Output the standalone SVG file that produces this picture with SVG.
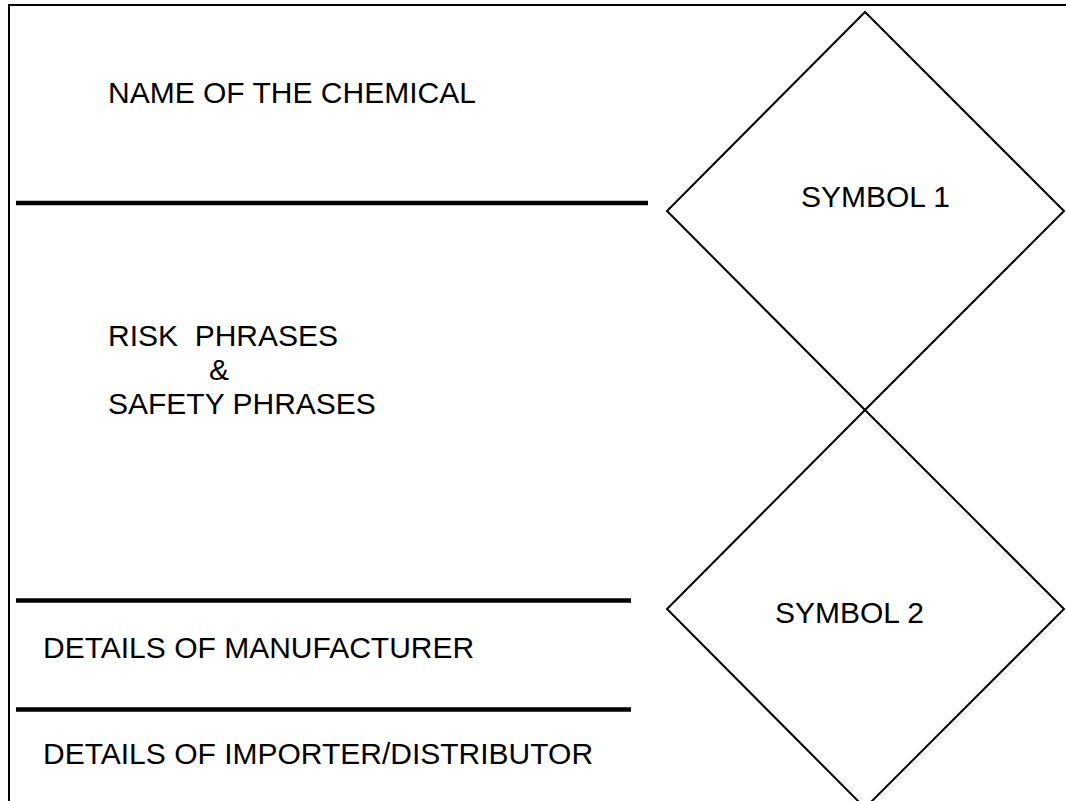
<svg xmlns="http://www.w3.org/2000/svg" width="1066" height="801" viewBox="0 0 1066 801">
<style>
.t{font-family:"Liberation Sans",Arial,sans-serif;font-size:30px;fill:#000}
.rule{stroke:#000;stroke-width:4.5;fill:none}
.dia{stroke:#000;stroke-width:2;fill:none}
.frame{stroke:#000;stroke-width:2;fill:none}
</style>
<rect width="1066" height="801" fill="#fff"/>
<g id="frame">
<polyline class="frame" points="9,801 9,5 1066,5"/>
</g>
<g id="connectors">
<line class="rule" x1="16" y1="203" x2="648" y2="203"/>
<line class="rule" x1="16" y1="600.5" x2="631" y2="600.5"/>
<line class="rule" x1="16" y1="709.5" x2="631" y2="709.5"/>
</g>
<g id="name">
<text class="t" x="108" y="103">NAME OF THE CHEMICAL</text>
</g>
<g id="phrases">
<text class="t" x="108" y="346" xml:space="preserve">RISK  PHRASES</text>
<text class="t" x="209" y="380">&amp;</text>
<text class="t" x="108" y="414">SAFETY PHRASES</text>
</g>
<g id="manufacturer">
<text class="t" x="43" y="658">DETAILS OF MANUFACTURER</text>
</g>
<g id="importer">
<text class="t" x="43" y="764">DETAILS OF IMPORTER/DISTRIBUTOR</text>
</g>
<g id="symbol1">
<polygon class="dia" points="865,12 1064,211 865,410 667,211"/>
<text class="t" x="801" y="207">SYMBOL 1</text>
</g>
<g id="symbol2">
<polygon class="dia" points="865,410 1064,609 865,808 667,609"/>
<text class="t" x="775" y="623">SYMBOL 2</text>
</g>
</svg>
